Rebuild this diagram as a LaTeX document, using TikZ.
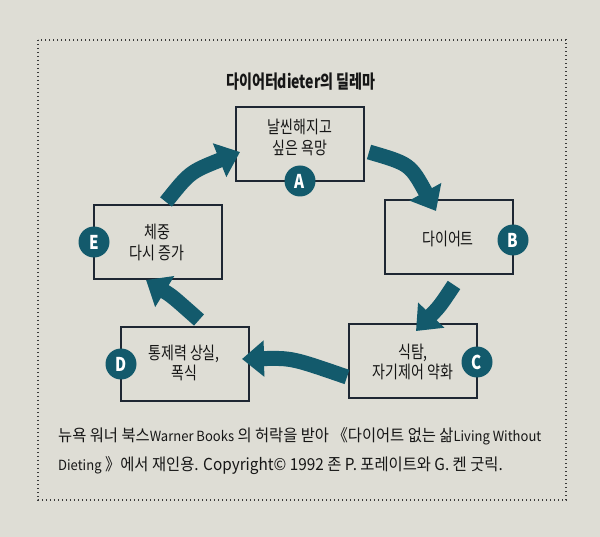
\documentclass[tikz,border=0pt]{standalone}
\usepackage{fontspec}
\usetikzlibrary{arrows.meta,calc}
\setmainfont{Noto Sans CJK KR}
\newfontfamily\krbox[FakeStretch=0.80]{Noto Sans CJK KR}
\newfontfamily\krtitle[FakeStretch=0.76]{Noto Sans CJK KR}
\newfontfamily\krcap[FakeStretch=0.93]{Noto Sans CJK KR}
\definecolor{bgc}{HTML}{DEDDD5}
\definecolor{tealc}{HTML}{135A6C}
\definecolor{boxc}{HTML}{1E2733}
\definecolor{inkc}{HTML}{161616}
\definecolor{dotc}{HTML}{3A3A3A}
\tikzset{
  boxnode/.style={draw=boxc, line width=2pt, minimum width=128pt, minimum height=74pt, inner sep=0pt, outer sep=0pt},
  boxtext/.style={align=center, text=inkc, font=\krbox\fontsize{17.5}{20.5}\selectfont},
  badge/.style={circle, fill=tealc, minimum size=31pt, inner sep=0pt, text=white, font=\krbox\bfseries\fontsize{19}{19}\selectfont},
  cyclearrow/.style={draw=tealc, line width=15pt, -{Triangle[length=22pt,width=35pt]}},
  captext/.style={anchor=base west, inner sep=0pt, text=inkc, font=\krcap\fontsize{16.5}{18}\selectfont}
}
\newcommand{\latsm}[1]{{\fontsize{14}{15}\selectfont #1}}
\begin{document}
\begin{tikzpicture}[x=1pt,y=-1pt]
\fill[bgc] (0,0) rectangle (600,537);
\useasboundingbox (0,0) rectangle (600,537);
\draw[dotc, line width=1.4pt, dash pattern=on 1.4pt off 2.6pt] (38,40) rectangle (566,500);
\node[text=inkc, font=\krtitle\bfseries\fontsize{18.5}{19}\selectfont] (T) at (301,82) {다이어터dieter의 딜레마};

% boxes
\node[boxnode] (A) at (300,144) {};
\node[boxtext] (At) at (300,137.5) {날씬해지고\\싶은 욕망};
\node[boxnode] (B) at (449,237) {};
\node[boxtext] (Bt) at (448,239) {다이어트};
\node[boxnode] (C) at (413,361) {};
\node[boxtext] (Ct) at (413,362) {식탐,\\자기제어 약화};
\node[boxnode] (D) at (185,364) {};
\node[boxtext] (Dt) at (184,363) {통제력 상실,\\폭식};
\node[boxnode] (E) at (158,242) {};
\node[boxtext] (Et) at (157,242.5) {체중\\다시 증가};

% arrows
\coordinate (ea1) at (166,202); \coordinate (eac) at (190,172); \coordinate (ea2) at (240,152);
\coordinate (ab1) at (369,152); \coordinate (abc) at (410,164); \coordinate (ab2) at (436,211);
\coordinate (bc1) at (454,285); \coordinate (bcc) at (440,306); \coordinate (bc2) at (416,331);
\coordinate (cd1) at (347,377); \coordinate (cdc) at (292,358); \coordinate (cd2) at (242,359);
\coordinate (de1) at (199,320); \coordinate (dec) at (172,296); \coordinate (de2) at (146,280);
\draw[cyclearrow] (ea1) .. controls (eac) .. (ea2);
\draw[cyclearrow] (ab1) .. controls (abc) .. (ab2);
\draw[cyclearrow] (bc1) .. controls (bcc) .. (bc2);
\draw[cyclearrow] (cd1) .. controls (cdc) .. (cd2);
\draw[cyclearrow] (de1) .. controls (dec) .. (de2);

% badges
\node[badge] (a) at (300,181) {A};
\node[badge] (b) at (513,240) {B};
\node[badge] (c) at (477,362) {C};
\node[badge] (d) at (121,364) {D};
\node[badge] (e) at (94,242) {E};

% caption
\node[captext] (L1) at (58,441) {뉴욕 워너 북스\latsm{Warner Books} 의 허락을 받아 《다이어트 없는 삶\latsm{Living Without}};
\node[captext] (L2) at (58,470) {\latsm{Dieting} 》에서 재인용. Copyright© 1992 존 P. 포레이트와 G. 켄 굿릭.};
\end{tikzpicture}
\end{document}
